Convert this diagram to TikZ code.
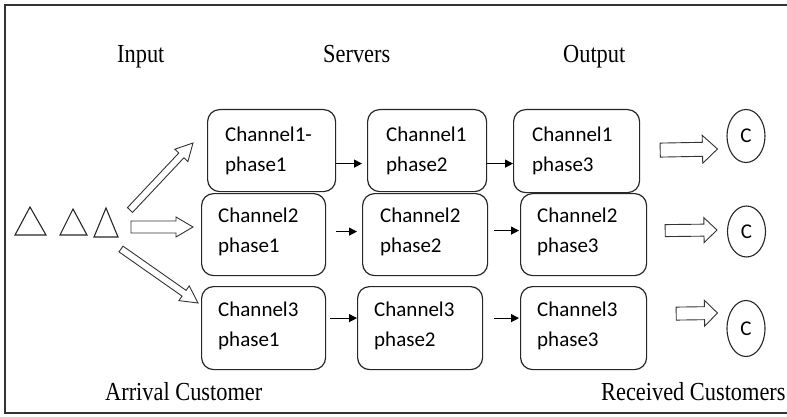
\documentclass[tikz,border=0pt]{standalone}
\usepackage{fontspec}
\setmainfont{Liberation Serif}
\newfontfamily\boxfont{Carlito}
\newfontfamily\labfont[FakeStretch=0.86]{Liberation Serif}
\usetikzlibrary{calc,arrows.meta,shapes.geometric}

\tikzset{
  stagebox/.style={draw=black!85, line width=1.2pt, rounded corners=12pt, anchor=north west, inner sep=0pt},
  boxtext/.style={anchor=north west, inner sep=0pt, align=left, font=\boxfont\fontsize{21}{29.5}\selectfont},
  heading/.style={anchor=base west, inner sep=0pt, font=\labfont\fontsize{26}{30}\selectfont},
  conn/.style={line width=1.2pt, -{Triangle[length=8pt,width=8pt]}},
  blk/.style={draw=black!80, line width=0.9pt, line join=miter},
  custnode/.style={draw=black!85, line width=1.1pt, ellipse, minimum width=38pt, minimum height=53pt, inner sep=0pt, font=\boxfont\fontsize{21}{24}\selectfont},
  tri/.style={draw=black!85, line width=1.1pt, line join=miter},
  frameline/.style={draw=black!80, line width=1.6pt}
}

% block (hollow) arrow from #1 to #2; shaft half width #3, head half width #4, head length #5
\newcommand\blockarrow[5]{%
  \coordinate (bahead) at ($(#2)!#5!(#1)$);
  \draw[blk] ($(#1)!#3!90:(#2)$) -- ($(bahead)!#3!90:(#2)$) -- ($(bahead)!#4!90:(#2)$)
    -- (#2) -- ($(bahead)!#4!-90:(#2)$) -- ($(bahead)!#3!-90:(#2)$) -- ($(#1)!#3!-90:(#2)$) -- cycle;}

\begin{document}
\begin{tikzpicture}[x=1pt,y=-1pt]
\useasboundingbox (0,0) rectangle (787,417);
\clip (0,0) rectangle (787,417);

% frame
\draw[frameline] (787,5) -- (5,5) -- (5,413) -- (787,413);

% headings
\node[heading] (hin)  at (117,63) {Input};
\node[heading] (hsrv) at (323,63) {Servers};
\node[heading] (hout) at (563,63) {Output};
\node[heading] (harr) at (105,400) {Arrival Customer};
\node[heading] (hrec) at (601,400) {Received Customers};

% triangles (arriving customers)
\draw[tri] (15,235) -- (30,207) -- (46,235) -- cycle;
\draw[tri] (60,235) -- (73,209) -- (87,235) -- cycle;
\draw[tri] (94,237) -- (106,208) -- (118,237) -- cycle;

% boxes
\node[stagebox, minimum width=128pt, minimum height=82pt] (b11) at (207,109) {};
\node[stagebox, minimum width=119pt, minimum height=82pt] (b12) at (367,109) {};
\node[stagebox, minimum width=126pt, minimum height=83pt] (b13) at (513,109) {};
\node[stagebox, minimum width=124pt, minimum height=82pt] (b21) at (201,193) {};
\node[stagebox, minimum width=125pt, minimum height=82pt] (b22) at (362,193) {};
\node[stagebox, minimum width=126pt, minimum height=82pt] (b23) at (520,193) {};
\node[stagebox, minimum width=124pt, minimum height=83pt] (b31) at (201,286) {};
\node[stagebox, minimum width=125pt, minimum height=83pt] (b32) at (357,286) {};
\node[stagebox, minimum width=126pt, minimum height=83pt] (b33) at (520,286) {};

% box texts
\node[boxtext] (t11) at ($(b11.north west)+(18,18)$) {Channel1-\\phase1};
\node[boxtext] (t12) at ($(b12.north west)+(19,18)$) {Channel1\\phase2};
\node[boxtext] (t13) at ($(b13.north west)+(19,18)$) {Channel1\\phase3};
\node[boxtext] (t21) at ($(b21.north west)+(17,15)$) {Channel2\\phase1};
\node[boxtext] (t22) at ($(b22.north west)+(18,15)$) {Channel2\\phase2};
\node[boxtext] (t23) at ($(b23.north west)+(17,15)$) {Channel2\\phase3};
\node[boxtext] (t31) at ($(b31.north west)+(17,16)$) {Channel3\\phase1};
\node[boxtext] (t32) at ($(b32.north west)+(17,16)$) {Channel3\\phase2};
\node[boxtext] (t33) at ($(b33.north west)+(17,16)$) {Channel3\\phase3};

% connectors between phases
\draw[conn] ([shift={(0,13)}]b11.east) -- ([shift={(-5,13)}]b12.west);
\draw[conn] ([shift={(0,13)}]b12.east) -- ([shift={(0,12.5)}]b13.west);
\draw[conn] ([shift={(10,-3)}]b21.east) -- ([shift={(-5,-3)}]b22.west);
\draw[conn] ([shift={(6,-4)}]b22.east) -- ([shift={(-1,-4)}]b23.west);
\draw[conn] ([shift={(4,-10)}]b31.east) -- ([shift={(0,-10)}]b32.west);
\draw[conn] ([shift={(11,-10)}]b32.east) -- ([shift={(-1,-10)}]b33.west);

% customers leaving
\node[custnode] (c1) at (746,136) {C};
\node[custnode, minimum height=51pt] (c2) at (746.5,231.5) {C};
\node[custnode, minimum height=56pt] (c3) at (746,328.5) {C};

% input arrows
\coordinate (inup)  at (130,210);
\coordinate (inmid) at (131,227);
\coordinate (indn)  at (121,249);
\coordinate (tipup)  at (193,143);
\coordinate (tipmid) at (193,227);
\coordinate (tipdn)  at (198,303);
\blockarrow{inup}{tipup}{3.5pt}{9pt}{17pt}
\blockarrow{inmid}{tipmid}{6pt}{10pt}{17pt}
\blockarrow{indn}{tipdn}{3.5pt}{9pt}{17pt}

% output arrows
\coordinate (out1s) at ($(b13.east)+(20,-1)$);
\coordinate (out1e) at ($(c1.west)+(-9,13)$);
\coordinate (out2s) at ($(b23.east)+(18,-4)$);
\coordinate (out2e) at ($(c2.west)+(-10,-1.5)$);
\coordinate (out3s) at ($(b33.east)+(29,-14.5)$);
\coordinate (out3e) at ($(c3.west)+(-9,-15.5)$);
\blockarrow{out1s}{out1e}{7pt}{14pt}{15pt}
\blockarrow{out2s}{out2e}{6pt}{12.5pt}{13pt}
\blockarrow{out3s}{out3e}{6.5pt}{13pt}{13pt}
\end{tikzpicture}
\end{document}
